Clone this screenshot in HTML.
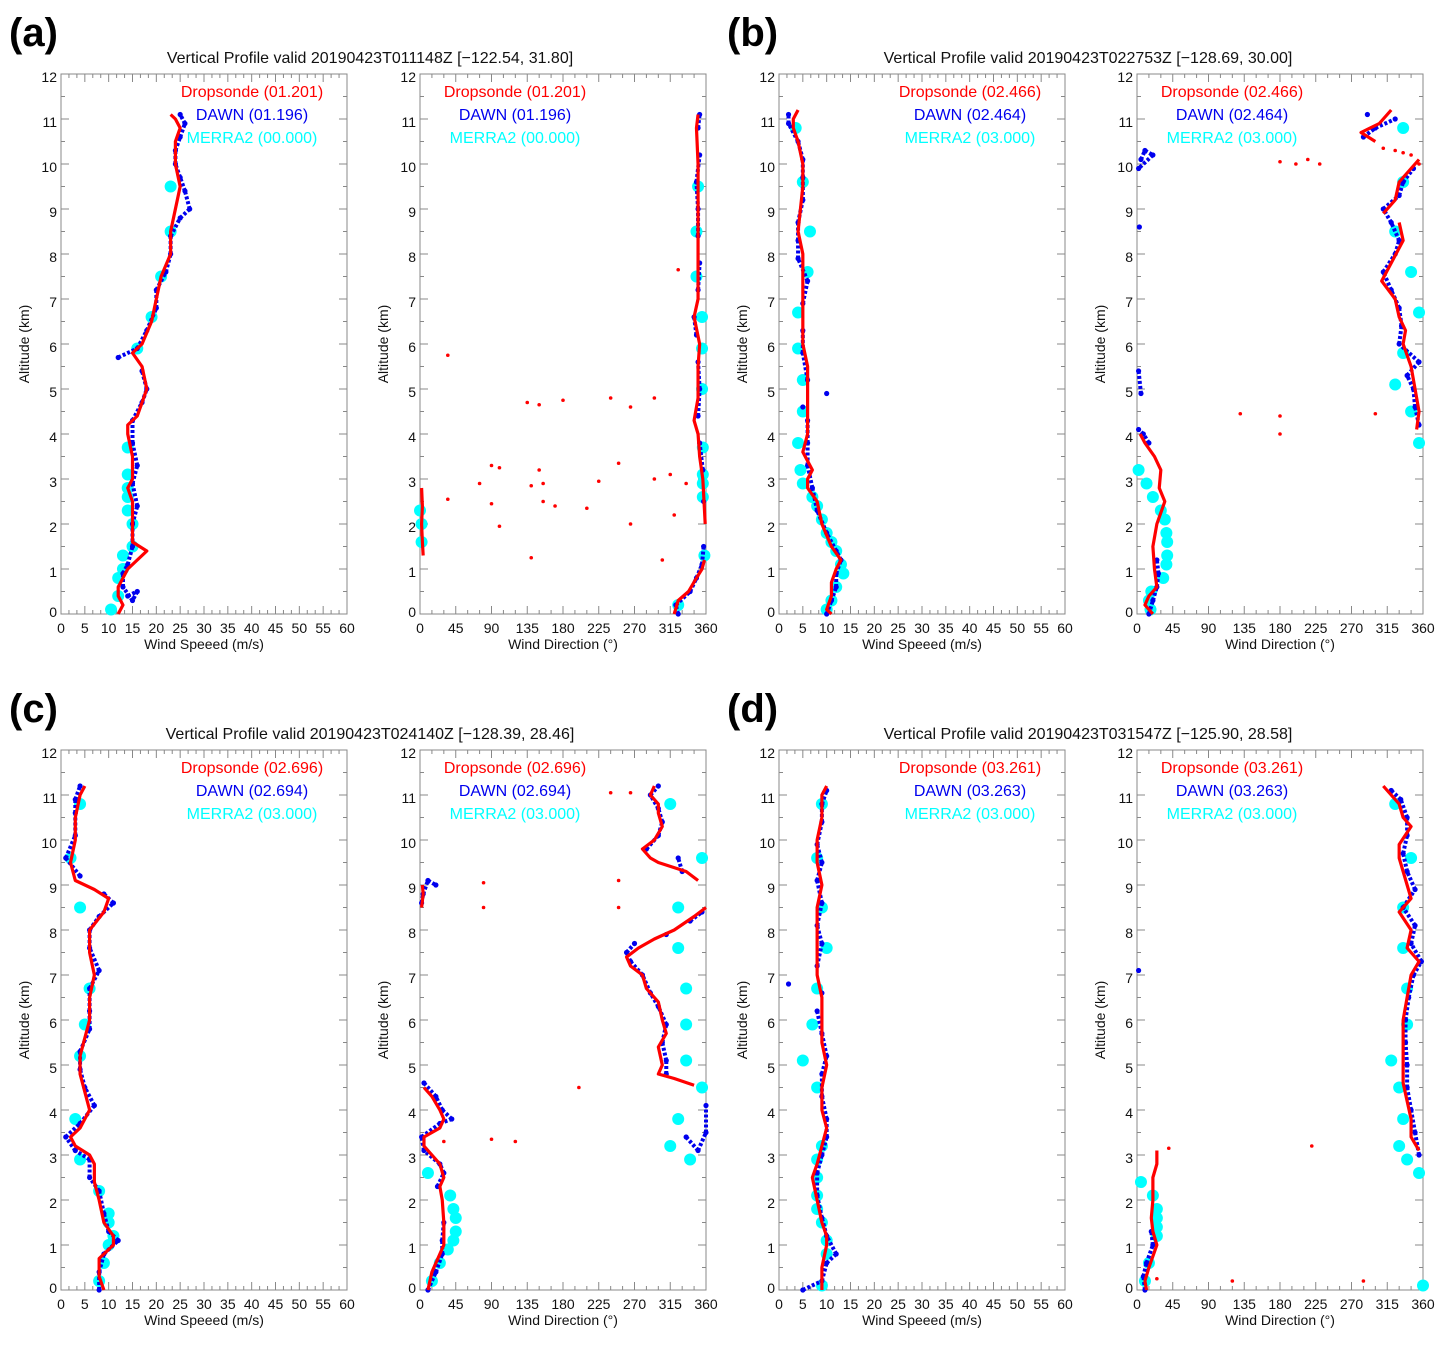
<!DOCTYPE html>
<html><head><meta charset="utf-8"><style>
body{margin:0;background:#fff}
svg text{font-family:"Liberation Sans",sans-serif}
</style></head><body>
<svg id="fig" width="1448" height="1340" viewBox="0 0 1448 1340" xmlns="http://www.w3.org/2000/svg"></svg>
<script>
// ===== DATA =====
const spdTicks=[0,5,10,15,20,25,30,35,40,45,50,55,60];
const dirTicks=[0,45,90,135,180,225,270,315,360];
const altTicks=[0,1,2,3,4,5,6,7,8,9,10,11,12];
const panelLabels=["(a)","(b)","(c)","(d)"];
const titles=["Vertical Profile valid 20190423T011148Z [\u2212122.54, 31.80]","Vertical Profile valid 20190423T022753Z [\u2212128.69, 30.00]","Vertical Profile valid 20190423T024140Z [\u2212128.39, 28.46]","Vertical Profile valid 20190423T031547Z [\u2212125.90, 28.58]"];
const legendSonde=["Dropsonde (01.201)","Dropsonde (02.466)","Dropsonde (02.696)","Dropsonde (03.261)"];
const legendDawn=["DAWN (01.196)","DAWN (02.464)","DAWN (02.694)","DAWN (03.263)"];
const legendMerra=["MERRA2 (00.000)","MERRA2 (03.000)","MERRA2 (03.000)","MERRA2 (03.000)"];

// [altitude km, value]; null breaks a line
const aSpdSonde=[[0,12],[0.2,13],[0.4,12],[0.6,12],[0.8,13],[1.0,14],[1.2,16],[1.4,18],[1.6,15],[2.0,15],[2.5,15],[2.8,14],[3.0,15],[3.5,15],[4.0,14],[4.2,14],[4.4,16],[5.0,18],[5.5,17],[5.8,15],[6.0,17],[6.5,19],[7.0,20],[7.5,21],[8.0,23],[8.5,23],[9.0,24],[9.5,25],[10.0,24],[10.5,24],[10.8,25],[11.0,24],[11.1,23]];
const aSpdDawn=[[0.4,14],[0.5,16],[0.3,15],[0.6,13],[0.9,13],[1.1,14],[1.5,15],[2.0,15],[2.4,16],[2.9,15],[3.3,16],[3.8,15],[4.3,15],[4.7,17],[5.0,18],[5.4,17],[5.7,12],[5.9,16],[6.3,18],[6.8,20],[7.2,20],[7.6,22],[8.0,23],[8.4,23],[8.8,25],[9.0,27],[9.4,26],[9.7,25],[10.0,24],[10.3,24],[10.6,25],[10.9,26],[11.1,25]];
const aSpdMerra=[[0.1,10.5],[0.4,12],[0.8,12],[1.0,13],[1.3,13],[1.5,15],[2.0,15],[2.3,14],[2.6,14],[2.8,14],[3.1,14],[3.7,14],[5.9,16],[6.6,19],[7.5,21],[8.5,23],[9.5,23]];
const aSpdIso=[];
const aDirSonde=[[0,320],[0.3,325],[0.5,338],[0.8,348],[1.0,355],[1.2,358],null,[1.3,4],[1.6,3],[2.0,2],[2.4,3],[2.8,2],null,[2.0,359],[3.0,356],[3.5,352],[4.0,350],[4.3,345],[4.8,350],[5.5,350],[6.0,352],[6.6,345],[7.0,350],[8.0,350],[9.0,350],[10.0,350],[10.8,348],[11.1,350]];
const aDirDawn=[[0,325],[0.2,322],[0.5,340],[0.8,348],[1.1,355],[1.5,357],[2.5,357],[3.2,356],[3.8,352],[4.4,350],[5.0,352],[5.6,350],[6.2,348],[6.6,345],[7.2,350],[7.8,352],[8.4,350],[9.0,350],[9.6,348],[10.2,352],[10.8,350],[11.1,352]];
const aDirMerra=[[0.2,325],[2.0,2],[2.3,0],[1.6,2],[2.6,356],[2.9,356],[3.1,356],[3.7,356],[5.0,355],[5.9,355],[6.6,355],[7.5,348],[8.5,348],[9.5,350],[1.3,358]];
const aDirIso=[[5.75,35],[4.7,135],[4.65,150],[4.75,180],[4.8,240],[4.6,265],[4.8,295],[3.3,90],[3.25,100],[3.2,150],[3.35,250],[2.9,75],[2.85,140],[2.9,155],[2.5,155],[2.4,170],[2.35,210],[2.95,225],[3.0,295],[2.45,90],[2.55,35],[1.95,100],[2.0,265],[1.25,140],[1.2,305],[3.1,315],[2.2,320],[2.9,335],[7.65,325]];

const bSpdSonde=[[0,11],[0.1,10],[0.4,11],[0.7,11],[1.0,12],[1.2,13],[1.5,11],[2.0,9],[2.5,8],[2.8,6],[3.0,6],[3.2,7],[3.6,5],[4.0,6],[4.5,6],[5.0,6],[5.5,6],[6.0,5],[6.5,5],[7.0,5],[7.5,5],[8.0,5],[8.5,4],[9.0,4.5],[9.5,5],[10.0,5],[10.5,4],[10.8,3],[11.0,3],[11.2,4]];
const bSpdDawn=[[0,10],[0.3,11],[0.6,12],[0.9,12],[1.2,13],[1.4,12],[1.8,10],[2.3,8],[2.8,7],[3.3,6],[3.8,6],[4.3,6],[4.9,10],[4.6,5],[5.2,6],[5.8,5],[6.3,5],[6.9,5],[7.4,6],[7.9,4],[8.3,4],[8.7,4],[9.2,5],[9.7,5],[10.1,5],[10.5,4],[10.9,2],[11.1,2]];
const bSpdMerra=[[10.8,3.5],[9.6,5],[8.5,6.5],[7.6,6],[6.7,4],[5.9,4],[5.2,5],[4.5,5],[3.8,4],[3.2,4.5],[2.9,5],[2.6,7],[2.4,8],[2.1,9],[1.8,10],[1.6,11],[1.4,12],[1.1,13],[0.9,13.5],[0.6,12],[0.3,11],[0.1,10]];
const bSpdIso=[];
const bDirSonde=[[0,20],[0.2,10],[0.4,15],[0.6,25],[1.0,22],[1.5,20],[2.0,25],[2.5,35],[2.8,28],[3.2,30],[3.5,22],[3.8,10],[4.0,4],null,[4.1,352],[4.5,355],[5.0,350],[5.5,345],[6.0,335],[6.3,338],[6.6,330],[7.0,325],[7.4,308],[7.8,320],[8.3,335],[8.7,330],null,[8.9,310],[9.2,325],[9.6,330],[9.9,345],[10.1,355],null,[10.5,300],[10.7,282],[10.9,305],[11.0,310],[11.2,320]];
const bDirDawn=[[0,15],[0.3,20],[0.6,25],[0.9,27],[1.2,25],[3.8,15],[4.0,8],[4.1,2],[10.1,5],[10.3,10],[10.2,20],[9.9,2],[5.4,2],[4.9,5],[8.6,3],[4.2,355],[4.6,350],[5.0,348],[5.3,340],[5.6,355],[6.0,330],[6.4,333],[6.8,330],[7.2,320],[7.6,310],[8.0,325],[8.3,330],[8.7,320],[9.0,310],[9.3,330],[9.6,335],[9.9,348],[10.6,285],[10.8,300],[11.0,325],[11.1,290]];
const bDirMerra=[[3.2,2],[2.9,12],[2.6,20],[2.3,30],[2.1,35],[1.8,37],[1.6,38],[1.3,38],[1.1,37],[0.8,33],[0.5,18],[0.3,15],[0.1,17],[10.8,335],[9.6,335],[8.5,325],[7.6,345],[6.7,355],[5.8,335],[5.1,325],[4.5,345],[3.8,355]];
const bDirIso=[[10.05,180],[10.0,200],[10.1,215],[10.0,230],[4.45,130],[4.4,180],[4.0,180],[4.45,300],[10.3,325],[10.25,335],[10.2,345],[10.0,355],[10.35,310]];

const cSpdSonde=[[0,9],[0.3,8],[0.7,8],[1.0,11],[1.2,11],[1.5,9],[2.0,8],[2.4,7],[2.8,7],[3.0,6],[3.2,3],[3.4,2],[3.6,4],[4.0,6],[4.4,5],[4.8,4],[5.2,4],[5.6,5],[6.0,6],[6.5,6],[7.0,7],[7.5,6],[8.0,6],[8.4,9],[8.7,10],[8.9,7],[9.1,3],[9.5,2],[10.0,3],[10.5,3],[11.0,4],[11.2,5]];
const cSpdDawn=[[0,8],[0.4,8],[0.8,9],[1.1,12],[1.3,10],[1.7,9],[2.2,8],[2.5,6],[2.9,6],[3.1,3],[3.4,1],[3.7,4],[4.1,7],[4.5,5],[4.9,4],[5.3,4],[5.8,6],[6.2,6],[6.7,6],[7.1,8],[7.6,6],[8.0,6],[8.3,8],[8.6,11],[8.8,9],[9.2,4],[9.6,1],[10.1,3],[10.6,3],[10.9,3],[11.2,4]];
const cSpdMerra=[[0.2,8],[0.6,9],[1.0,10],[1.2,11],[1.5,10],[1.7,10],[2.2,8],[2.9,4],[3.8,3],[5.2,4],[5.9,5],[6.7,6],[8.5,4],[9.6,2],[10.8,4]];
const cSpdIso=[];
const cDirSonde=[[0,10],[0.4,15],[0.8,25],[1.0,30],[1.5,30],[2.0,28],[2.3,25],[2.5,30],[2.8,25],[3.0,15],[3.2,5],[3.4,5],[3.6,25],[3.8,30],[4.0,25],[4.3,15],[4.5,5],null,[8.5,2],[8.8,4],[9.0,3],null,[4.55,345],[4.7,320],[4.8,300],[5.0,305],[5.4,300],[5.7,310],[6.0,305],[6.4,300],[6.7,285],[7.0,280],[7.2,265],[7.4,260],[7.6,275],[7.8,295],[8.0,320],[8.3,345],[8.5,360],null,[9.1,350],[9.3,335],[9.5,300],[9.6,290],[9.8,280],[10.0,295],[10.3,305],[10.6,300],[10.8,300],[11.0,290],[11.2,295]];
const cDirDawn=[[0,10],[0.4,20],[0.8,28],[1.1,28],[1.5,30],[2.3,22],[2.6,30],[2.8,25],[3.1,5],[3.4,2],[3.7,25],[3.8,40],[4.0,28],[4.3,20],[4.6,5],[8.6,2],[8.8,4],[9.1,10],[9.0,20],[4.8,310],[5.1,310],[5.5,305],[5.9,310],[6.3,300],[6.6,290],[7.0,280],[7.3,265],[7.5,260],[7.7,270],[7.9,310],[8.2,340],[8.4,355],[9.3,330],[9.6,325],[9.8,285],[10.1,300],[10.4,305],[10.7,300],[11.0,290],[11.2,300],[3.4,335],[3.1,350],[3.5,360],[4.1,360]];
const cDirMerra=[[0.2,15],[0.6,25],[0.9,35],[1.1,42],[1.3,45],[1.6,45],[1.8,42],[2.1,38],[2.6,10],[2.9,340],[3.2,315],[3.8,325],[4.5,355],[5.1,335],[5.9,335],[6.7,335],[7.6,325],[8.5,325],[9.6,355],[10.8,315]];
const cDirIso=[[3.35,90],[3.3,120],[4.5,200],[9.05,80],[8.5,80],[9.1,250],[8.5,250],[11.05,240],[11.05,265],[3.3,30]];

const dSpdSonde=[[0,9],[0.5,9],[1.0,10],[1.2,10],[1.5,9],[2.0,8],[2.5,7],[2.8,8],[3.2,9],[3.6,10],[4.0,9],[4.5,9],[5.0,10],[5.5,9],[6.0,9],[6.5,9],[7.0,8],[7.5,8],[8.0,8],[8.5,8],[9.0,9],[9.5,8],[10.0,8],[10.5,9],[11.0,9],[11.2,10]];
const dSpdDawn=[[0,5],[0.2,9],[0.6,10],[0.8,12],[1.2,10],[1.6,9],[2.1,8],[2.6,8],[3.0,9],[3.4,10],[3.8,10],[4.3,9],[4.8,9],[5.2,10],[5.7,9],[6.2,8],[6.8,2],[6.6,9],[7.2,8],[7.7,9],[8.1,8],[8.6,9],[9.1,8],[9.5,9],[9.9,8],[10.4,9],[10.8,9],[11.1,10]];
const dSpdMerra=[[0.1,9],[0.8,10],[1.1,10],[1.5,9],[1.8,8],[2.1,8],[2.5,8],[2.9,8],[3.2,9],[4.5,8],[5.1,5],[5.9,7],[6.7,8],[7.6,10],[8.5,9],[9.6,8],[10.8,9]];
const dSpdIso=[];
const dDirSonde=[[0,12],[0.2,10],[0.5,15],[1.0,25],[1.3,20],[1.6,18],[2.0,20],[2.5,20],[2.8,25],[3.1,25],null,[3.1,355],[3.4,345],[3.8,345],[4.2,340],[4.6,335],[5.0,335],[5.5,335],[6.0,335],[6.5,340],[7.0,345],[7.3,355],[7.6,340],[8.0,345],[8.4,330],[8.7,345],[9.0,340],[9.3,335],[9.6,330],[9.9,330],[10.3,345],[10.5,335],[10.8,330],[11.0,320],[11.2,310]];
const dDirDawn=[[0,10],[0.3,8],[0.6,12],[1.0,20],[1.3,18],[7.1,2],[3.0,355],[3.5,350],[4.0,345],[4.5,340],[5.0,340],[5.5,338],[6.0,338],[6.5,342],[7.0,348],[7.3,358],[7.7,345],[8.1,350],[8.5,335],[8.9,350],[9.3,340],[9.7,335],[10.1,340],[10.5,340],[10.9,332],[11.1,320]];
const dDirMerra=[[0.2,10],[0.6,15],[1.2,25],[1.4,25],[1.6,25],[1.8,25],[2.1,20],[2.4,5],[2.6,355],[2.9,340],[3.2,330],[3.8,335],[4.5,330],[5.1,320],[5.9,340],[6.7,340],[7.6,335],[8.5,335],[9.6,345],[10.8,325],[0.1,360]];
const dDirIso=[[3.15,40],[0.2,120],[3.2,220],[0.2,285],[0.25,25]];

const spdSonde=[aSpdSonde,bSpdSonde,cSpdSonde,dSpdSonde];
const spdDawn=[aSpdDawn,bSpdDawn,cSpdDawn,dSpdDawn];
const spdMerra=[aSpdMerra,bSpdMerra,cSpdMerra,dSpdMerra];
const spdIso=[aSpdIso,bSpdIso,cSpdIso,dSpdIso];
const dirSonde=[aDirSonde,bDirSonde,cDirSonde,dDirSonde];
const dirDawn=[aDirDawn,bDirDawn,cDirDawn,dDirDawn];
const dirMerra=[aDirMerra,bDirMerra,cDirMerra,dDirMerra];
const dirIso=[aDirIso,bDirIso,cDirIso,dDirIso];

// ===== RENDER =====
const NS="http://www.w3.org/2000/svg";
const svg=document.getElementById('fig');
function mk(tag,attrs,parent){const e=document.createElementNS(NS,tag);for(const k in attrs)e.setAttribute(k,attrs[k]);(parent||svg).appendChild(e);return e;}
function txt(s,attrs,parent){const e=mk('text',attrs,parent);e.textContent=s;return e;}

const W=286,H=540;
const cols=[[61,420],[779,1137]];
const rows=[74,750];

function drawAxes(g,x0,y0,xmax,xt,xlabel,p){
  const sx=v=>x0+v/xmax*W, sy=a=>y0+H-a/12*H;
  const box=mk('rect',{x:x0,y:y0,width:W,height:H,fill:'none',stroke:'#888','stroke-width':1},g);
  
  
  for(let i=0;i<altTicks.length;i++){
    const a=altTicks[i], y=sy(a);
    mk('line',{x1:x0,y1:y,x2:x0+8,y2:y,stroke:'#888'},g);
    mk('line',{x1:x0+W,y1:y,x2:x0+W-8,y2:y,stroke:'#888'},g);
    if(i<altTicks.length-1){const ym=sy(a+0.5);
      mk('line',{x1:x0,y1:ym,x2:x0+4,y2:ym,stroke:'#888'},g);
      mk('line',{x1:x0+W,y1:ym,x2:x0+W-4,y2:ym,stroke:'#888'},g);}
    const t=txt(String(a),{x:x0-4,y:y+4+(a==0?-1:4),'text-anchor':'end','font-size':14,fill:'#111'},g);
    
    
  }
  for(let i=0;i<xt.length;i++){
    const v=xt[i], x=sx(v);
    mk('line',{x1:x,y1:y0+H,x2:x,y2:y0+H-8,stroke:'#888'},g);
    mk('line',{x1:x,y1:y0,x2:x,y2:y0+8,stroke:'#888'},g);
    if(i<xt.length-1){const step=(xt[1]-xt[0])/3;for(let k=1;k<3;k++){const xm=sx(v+step*k);
      mk('line',{x1:xm,y1:y0+H,x2:xm,y2:y0+H-4,stroke:'#888'},g);
      mk('line',{x1:xm,y1:y0,x2:xm,y2:y0+4,stroke:'#888'},g);}}
    const t=txt(String(v),{x:x,y:y0+H+19,'text-anchor':'middle','font-size':14,fill:'#111'},g);
    
    
  }
  const xl=txt(xlabel,{x:x0+W/2,y:y0+H+35,'text-anchor':'middle','font-size':14,fill:'#111'},g);
  
  
  const yl=txt('Altitude (km)',{x:0,y:0,transform:`translate(${x0-32},${y0+H/2}) rotate(-90)`,'text-anchor':'middle','font-size':14,fill:'#111'},g);
  
  
  return [sx,sy];
}

function drawSeries(g,sx,sy,sonde,dawn,merra,iso,x0,lcx,p){
  const clip='clip'+x0+'_'+p;
  const cp=mk('clipPath',{id:clip},g);mk('rect',{x:x0-6,y:sy(12.2),width:W+12,height:H+12},cp);
  const sg=mk('g',{'clip-path':`url(#${clip})`},g);
  for(const d of merra){const c=mk('circle',{cx:sx(d[1]),cy:sy(d[0]),r:6,fill:'#00ffff'},sg);
    
    }
  for(let i=0;i<dawn.length;i++){const d=dawn[i];
    const c=mk('circle',{cx:sx(d[1]),cy:sy(d[0]),r:2.6,fill:'#0000ee'},sg);
    
    
    if(i>0){const q=dawn[i-1];
      if(Math.abs(sx(q[1])-sx(d[1]))<20 && Math.abs(q[0]-d[0])<0.6){
        const l=mk('line',{x1:sx(q[1]),y1:sy(q[0]),x2:sx(d[1]),y2:sy(d[0]),stroke:'#0000ee','stroke-width':4,'stroke-dasharray':'3 2'},sg);
        
        }}
  }
  let seg=[];const segs=[];
  for(const d of sonde){if(d===null){if(seg.length)segs.push(seg);seg=[];}else seg.push(d);}
  if(seg.length)segs.push(seg);
  for(const s of segs){
    const pl=mk('polyline',{points:s.map(d=>sx(d[1])+','+sy(d[0])).join(' '),fill:'none',stroke:'#ff0000','stroke-width':3.2,'stroke-linejoin':'round'},sg);
    
    
  }
  for(const d of iso){const c=mk('circle',{cx:sx(d[1]),cy:sy(d[0]),r:1.8,fill:'#ff0000'},sg);
    
    }
  const lg=mk('g',{},g);
  
  
  const l1=txt(legendSonde[p],{x:lcx,y:sy(12)+23,'text-anchor':'middle','font-size':16,fill:'#ff0000'},lg);
  
  const l2=txt(legendDawn[p],{x:lcx,y:sy(12)+46,'text-anchor':'middle','font-size':16,fill:'#0000ee'},lg);
  
  const l3=txt(legendMerra[p],{x:lcx,y:sy(12)+69,'text-anchor':'middle','font-size':16,fill:'#00ffff'},lg);
  
}

for(let p=0;p<4;p++){
  const cx=cols[p%2], y0=rows[Math.floor(p/2)];
  const g=mk('g',{});
  
  
  const lab=txt(panelLabels[p],{x:cx[0]-52,y:y0-28,'font-size':40,'font-weight':'bold',fill:'#000'},g);
  
  
  const tt=txt(titles[p],{x:cx[0]+309,y:y0-11,'text-anchor':'middle','font-size':16,fill:'#111'},g);
  
  
  const g1=mk('g',{},g);
  
  
  const [sx1,sy1]=drawAxes(g1,cx[0],y0,60,spdTicks,'Wind Speeed (m/s)',p);
  drawSeries(g1,sx1,sy1,spdSonde[p],spdDawn[p],spdMerra[p],spdIso[p],cx[0],cx[0]+191,p);
  const g2=mk('g',{},g);
  
  
  const [sx2,sy2]=drawAxes(g2,cx[1],y0,360,dirTicks,'Wind Direction (\u00b0)',p);
  drawSeries(g2,sx2,sy2,dirSonde[p],dirDawn[p],dirMerra[p],dirIso[p],cx[1],cx[1]+95,p);
}
</script>
</body></html>
